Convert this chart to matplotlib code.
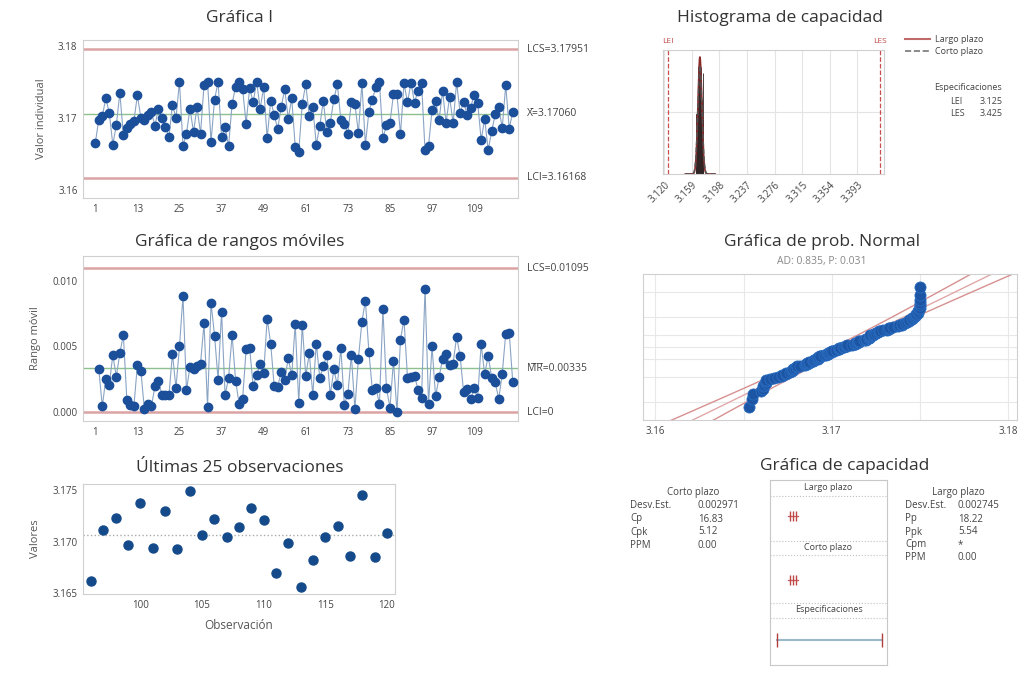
import matplotlib
matplotlib.use("Agg")
import matplotlib.pyplot as plt
from matplotlib.lines import Line2D
import numpy as np
from statistics import NormalDist

plt.rcParams['font.family'] = ['Open Sans', 'DejaVu Sans']

valores = [
    3.16652, 3.16978, 3.17022, 3.17274, 3.17065, 3.16630, 3.16900, 3.17348, 3.16761, 3.16857,
    3.16913, 3.16957, 3.17313, 3.17000, 3.16978, 3.17043, 3.17087, 3.16891, 3.17130, 3.17000,
    3.16870, 3.16739, 3.17183, 3.17000, 3.17500, 3.16617, 3.16783, 3.17130, 3.16804, 3.17152,
    3.16783, 3.17457, 3.17500, 3.16670, 3.17252, 3.17500, 3.16739, 3.16870, 3.16609, 3.17196,
    3.17435, 3.17500, 3.17400, 3.16922, 3.17413, 3.17217, 3.17500, 3.17130, 3.17426, 3.16717,
    3.17239, 3.17043, 3.16848, 3.17152, 3.17400, 3.16991, 3.17270, 3.16600, 3.16530, 3.17196,
    3.17470, 3.17022, 3.17152, 3.16630, 3.16891, 3.17239, 3.16804, 3.16935, 3.17261, 3.17465,
    3.16978, 3.16922, 3.16783, 3.17217, 3.17196, 3.16791, 3.17478, 3.16630, 3.17087, 3.17252,
    3.17435, 3.17500, 3.16717, 3.16900, 3.16935, 3.17326, 3.17326, 3.16774, 3.17478, 3.17217,
    3.17487, 3.17210, 3.17380, 3.17490, 3.16550, 3.16613, 3.17113, 3.17233, 3.16968, 3.17375,
    3.16933, 3.17293, 3.16923, 3.17495, 3.17068, 3.17218, 3.17043, 3.17143, 3.17323, 3.17213,
    3.16695, 3.16983, 3.16555, 3.16818, 3.17048, 3.17148, 3.16858, 3.17455, 3.16853, 3.17083,
]

# limits and statistics as printed on the chart
lcs_i, media, lci_i = 3.17951, 3.17060, 3.16168
lcs_mr, mr_medio, lci_mr = 0.01095, 0.00335, 0.0
lei, les = 3.125, 3.425
desv_corto, desv_largo = 0.002971, 0.002745

i_ticks = [1, 13, 25, 37, 49, 61, 73, 85, 97, 109]
hist_ticks = [3.120, 3.159, 3.198, 3.237, 3.276, 3.315, 3.354, 3.393]

corto_rows = [("Desv.Est.", "0.002971"), ("Cp", "16.83"), ("Cpk", "5.12"), ("PPM", "0.00")]
largo_rows = [("Desv.Est.", "0.002745"), ("Pp", "18.22"), ("Ppk", "5.54"), ("Cpm", "*"), ("PPM", "0.00")]

W, H = 1027, 673
fig = plt.figure(figsize=(W / 100, H / 100), dpi=100)
fig.patch.set_facecolor('white')

TXT = '#444444'
BLUE = '#1c4f9a'
LIM = '#dba3a3'
CEN = '#8cc08c'


def ax_px(l, t, r, b):
    return fig.add_axes([l / W, 1 - b / H, (r - l) / W, (b - t) / H])


def fig_text(x, y, s, **kw):
    return fig.text(x / W, 1 - y / H, s, **kw)


def style(ax):
    for sp in ax.spines.values():
        sp.set_color('#d0d0d0')
    ax.tick_params(length=0, labelsize=7, colors=TXT, pad=4)


obs = np.arange(1, len(valores) + 1)
x = np.array(valores)
mr = np.abs(np.diff(x))

# ---- I chart
ax1 = ax_px(83, 40, 518, 198)
style(ax1)
ax1.axhline(lcs_i, color=LIM, lw=1.8)
ax1.axhline(lci_i, color=LIM, lw=1.8)
ax1.axhline(media, color=CEN, lw=1)
ax1.plot(obs, x, color='#8aa4c4', lw=0.8, marker='o', ms=6, mfc=BLUE, mec=BLUE, zorder=3)
ax1.set_xlim(-2.5, 121.5)
ax1.set_ylim(3.1589, 3.1808)
ax1.set_xticks(i_ticks)
ax1.set_yticks([3.16, 3.17, 3.18])
ax1.set_yticklabels(['3.16', '3.17', '3.18'])
ax1.set_ylabel('Valor individual', fontsize=8, color='#555555', labelpad=8)
tr = ax1.get_yaxis_transform()
ax1.text(1.02, lcs_i, 'LCS=3.17951', transform=tr, fontsize=7.5, color=TXT, va='center')
ax1.text(1.02, media, 'X\u0304=3.17060', transform=tr, fontsize=7.5, color=TXT, va='center')
ax1.text(1.02, lci_i, 'LCI=3.16168', transform=tr, fontsize=7.5, color=TXT, va='center')
fig_text(240, 18, 'Gráfica I', fontsize=12.5, color='#333333', ha='center', va='center')

# ---- moving range chart
ax2 = ax_px(83, 256, 518, 421)
style(ax2)
ax2.axhline(lcs_mr, color=LIM, lw=1.8)
ax2.axhline(lci_mr, color=LIM, lw=1.8)
ax2.axhline(mr_medio, color=CEN, lw=1)
ax2.plot(obs[1:], mr, color='#8aa4c4', lw=0.8, marker='o', ms=6, mfc=BLUE, mec=BLUE, zorder=3)
ax2.set_xlim(-2.5, 121.5)
ax2.set_ylim(-0.00067, 0.01187)
ax2.set_xticks(i_ticks)
ax2.set_yticks([0.0, 0.005, 0.010])
ax2.set_yticklabels(['0.000', '0.005', '0.010'])
ax2.set_ylabel('Rango móvil', fontsize=8, color='#555555', labelpad=8)
tr = ax2.get_yaxis_transform()
ax2.text(1.02, lcs_mr, 'LCS=0.01095', transform=tr, fontsize=7.5, color=TXT, va='center')
ax2.text(1.02, mr_medio, 'M\u0305R\u0305=0.00335', transform=tr, fontsize=7.5, color=TXT, va='center')
ax2.text(1.02, lci_mr, 'LCI=0', transform=tr, fontsize=7.5, color=TXT, va='center')
fig_text(240, 242, 'Gráfica de rangos móviles', fontsize=12.5, color='#333333', ha='center', va='center')

# ---- last 25 observations
ax3 = ax_px(83, 484, 395, 594)
style(ax3)
ax3.axhline(media, color='#aaaaaa', lw=1, ls=':')
ax3.plot(obs[-25:], x[-25:], ls='none', marker='o', ms=6.5, mfc='#154a8a', mec='#154a8a')
ax3.set_xlim(95.35, 120.65)
ax3.set_ylim(3.1649, 3.1756)
ax3.set_xticks([100, 105, 110, 115, 120])
ax3.set_yticks([3.165, 3.170, 3.175])
ax3.set_yticklabels(['3.165', '3.170', '3.175'])
ax3.set_ylabel('Valores', fontsize=8, color='#555555', labelpad=8)
ax3.set_xlabel('Observación', fontsize=8.5, color='#555555', labelpad=6)
fig_text(240, 468, 'Últimas 25 observaciones', fontsize=12.5, color='#333333', ha='center', va='center')

# ---- capability histogram
ax4 = ax_px(663, 50, 884, 174)
style(ax4)
bins = np.arange(3.1645, 3.1765, 0.001)
cnt, edges, _ = ax4.hist(x, bins=bins, density=True, color='#4a3838', ec='#2e2222', lw=0.6, zorder=2)
xs = np.linspace(3.150, 3.192, 600)
pdf_l = np.exp(-0.5 * ((xs - media) / desv_largo) ** 2) / (desv_largo * np.sqrt(2 * np.pi))
pdf_c = np.exp(-0.5 * ((xs - media) / desv_corto) ** 2) / (desv_corto * np.sqrt(2 * np.pi))
ax4.plot(xs, pdf_l, color='#8c2a2a', lw=1.2, zorder=3)
ax4.plot(xs, pdf_c, color='#555555', lw=1, ls='--', zorder=3)
ax4.axvline(lei, color='#c85050', lw=0.9, ls='--')
ax4.axvline(les, color='#c85050', lw=0.9, ls='--')
ax4.set_xlim(3.1185, 3.4305)
ax4.set_ylim(0, max(cnt.max(), pdf_l.max()) * 1.06)
ax4.set_xticks(hist_ticks)
ax4.set_xticklabels(['%.3f' % t for t in hist_ticks], rotation=45, ha='right', rotation_mode='anchor')
ax4.set_yticks([ax4.get_ylim()[1] / 2])
ax4.set_yticklabels([])
ax4.grid(True, color='#e4e4e4', lw=0.8, zorder=0)
ax4.set_axisbelow(True)
tr = ax4.get_xaxis_transform()
ax4.text(lei, 1.04, 'LEI', transform=tr, fontsize=6, color='#c04848', ha='center', va='bottom')
ax4.text(les, 1.04, 'LES', transform=tr, fontsize=6, color='#c04848', ha='center', va='bottom')
fig_text(780, 18, 'Histograma de capacidad', fontsize=12.5, color='#333333', ha='center', va='center')

# legend / specs beside the histogram
fig.add_artist(Line2D([905 / W, 930 / W], [1 - 39 / H, 1 - 39 / H], color='#c06a6a', lw=1.5))
fig.add_artist(Line2D([905 / W, 930 / W], [1 - 51 / H, 1 - 51 / H], color='#777777', lw=1.2, ls='--'))
fig_text(935, 39, 'Largo plazo', fontsize=6.5, color=TXT, va='center')
fig_text(935, 51, 'Corto plazo', fontsize=6.5, color=TXT, va='center')
fig_text(968, 88, 'Especificaciones', fontsize=6.5, color=TXT, ha='center', va='center')
fig_text(950, 101, 'LEI', fontsize=6.5, color=TXT, va='center')
fig_text(980, 101, '3.125', fontsize=6.5, color=TXT, va='center')
fig_text(950, 113, 'LES', fontsize=6.5, color=TXT, va='center')
fig_text(980, 113, '3.425', fontsize=6.5, color=TXT, va='center')

# ---- normal probability plot
ax5 = ax_px(643, 274, 1017, 420)
style(ax5)
nd = NormalDist()
n = len(x)
z = np.array([nd.inv_cdf((k - 0.3) / (n + 0.4)) for k in range(1, n + 1)])
pct = [1, 10, 30, 50, 70, 90, 99]
ax5.set_yticks([nd.inv_cdf(p / 100) for p in pct])
ax5.set_yticklabels([])
ax5.set_xticks([3.16, 3.165, 3.17, 3.175, 3.18])
ax5.set_xticklabels(['3.16', '', '3.17', '', '3.18'])
ax5.grid(True, color='#e8e8e8', lw=0.8)
zz = np.linspace(-3.2, 3.2, 100)
fit = media + desv_largo * zz
band = 1.96 * desv_largo * np.sqrt(1 / n + zz ** 2 / (2 * (n - 1)))
ax5.plot(fit, zz, color='#e0a8a8', lw=1)
ax5.plot(fit - band, zz, color='#d69090', lw=1)
ax5.plot(fit + band, zz, color='#d69090', lw=1)
ax5.plot(np.sort(x), z, ls='none', marker='o', ms=8, mfc='#1c55a3', mec='#2a6cc0', mew=0.6, zorder=3)
ax5.set_xlim(3.1593, 3.1805)
ax5.set_ylim(-3.09, 3.09)
fig_text(822, 242, 'Gráfica de prob. Normal', fontsize=12.5, color='#333333', ha='center', va='center')
fig_text(822, 262, 'AD: 0.835, P: 0.031', fontsize=7.5, color='#888888', ha='center', va='center')

# ---- capability plot
ax6 = ax_px(770, 480, 887, 665)
for sp in ax6.spines.values():
    sp.set_color('#c8c8c8')
ax6.set_xticks([])
ax6.set_yticks([])
ax6.set_xlim(3.105, 3.4393)
ax6.set_ylim(665, 480)
for yy in (496, 541, 555, 603, 618):
    ax6.axhline(yy, color='#c0c0c0', lw=0.8, ls=':')
xm = 0.5 * (3.105 + 3.4393)
ax6.text(xm, 488, 'Largo plazo', fontsize=6.5, color=TXT, ha='center', va='center')
ax6.text(xm, 548, 'Corto plazo', fontsize=6.5, color=TXT, ha='center', va='center')
ax6.text(xm, 610, 'Especificaciones', fontsize=6.5, color=TXT, ha='center', va='center')
for yy, s in ((516, desv_largo), (580, desv_corto)):
    lo, hi = media - 3 * s, media + 3 * s
    ax6.plot([lo - 0.006, hi + 0.006], [yy, yy], color='#c85a5a', lw=0.9)
    ax6.plot([lo, media, hi], [yy] * 3, ls='none', marker='|', ms=7, mew=1, color='#c04848')
ax6.plot([lei, les], [640, 640], color='#9ab8cc', lw=1.5)
ax6.plot([lei, les], [640, 640], ls='none', marker='|', ms=10, mew=1, color='#b04040')
fig_text(845, 466, 'Gráfica de capacidad', fontsize=12.5, color='#333333', ha='center', va='center')

fig_text(693, 493, 'Corto plazo', fontsize=7, color=TXT, ha='center', va='center')
for k, (a, b) in enumerate(corto_rows):
    fig_text(630, 506 + 13 * k, a, fontsize=7, color=TXT, va='center')
    fig_text(698, 506 + 13 * k, b, fontsize=7, color=TXT, va='center')
fig_text(958, 493, 'Largo plazo', fontsize=7, color=TXT, ha='center', va='center')
for k, (a, b) in enumerate(largo_rows):
    fig_text(905, 506 + 13 * k, a, fontsize=7, color=TXT, va='center')
    fig_text(958, 506 + 13 * k, b, fontsize=7, color=TXT, va='center')

fig.savefig('out.png', dpi=100)
